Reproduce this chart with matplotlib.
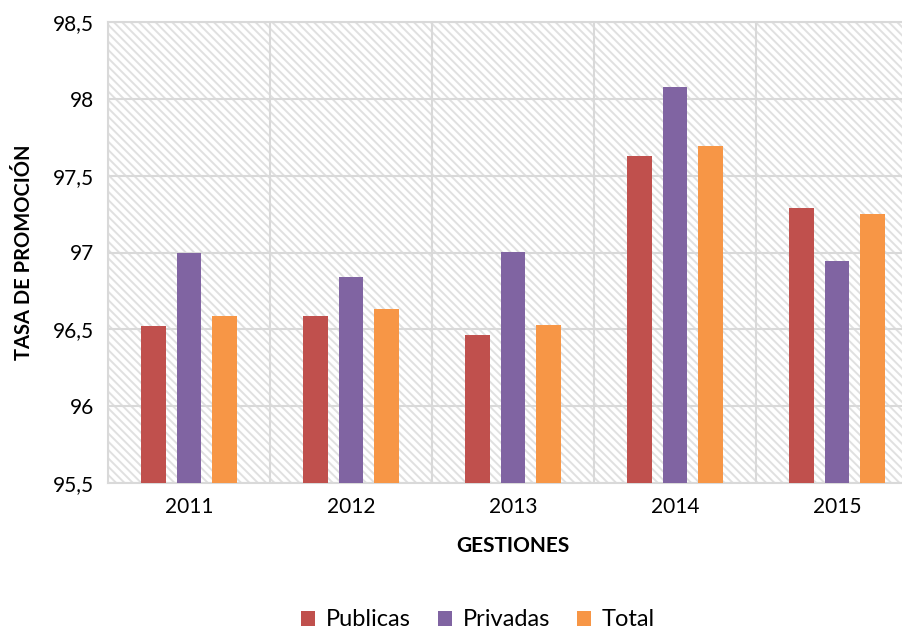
import matplotlib.pyplot as plt
import matplotlib.patches as mpatches
import numpy as np

plt.rcParams['font.family'] = ['Lato', 'DejaVu Sans']
plt.rcParams['hatch.linewidth'] = 1.4

years = ['2011', '2012', '2013', '2014', '2015']
publicas = [96.52, 96.585, 96.46, 97.63, 97.29]
privadas = [97.0, 96.84, 97.005, 98.08, 96.945]
total = [96.585, 96.63, 96.53, 97.69, 97.25]
yticks = [95.5, 96, 96.5, 97, 97.5, 98, 98.5]
ytick_labels = ['95,5', '96', '96,5', '97', '97,5', '98', '98,5']

colors = ['#c0504d', '#8064a2', '#f79646']
names = ['Publicas', 'Privadas', 'Total']

fig = plt.figure(figsize=(9.03, 6.31), dpi=100)
ax = fig.add_axes([108/903, 1 - 483/631, 810/903, 461/631])

# hatched background
bg = mpatches.Rectangle((0, 0), 1, 1, transform=ax.transAxes, facecolor='white',
                        edgecolor='#e0e0e0', linewidth=0, hatch='\\\\\\\\', zorder=0)
ax.add_patch(bg)

x = np.arange(len(years))
w = 0.154
off = 0.222
for i, (vals, c, n) in enumerate(zip([publicas, privadas, total], colors, names)):
    ax.bar(x + (i - 1) * off, np.array(vals) - 95.5, bottom=95.5, width=w,
           color=c, label=n, zorder=3)

ax.set_xlim(-0.5, 4.5)
ax.set_ylim(95.5, 98.5)
ax.set_yticks(yticks)
ax.set_yticklabels(ytick_labels, fontsize=15)
ax.set_xticks(x)
ax.set_xticklabels(years, fontsize=15)
ax.set_xticks(np.arange(-0.5, 5, 1), minor=True)
ax.tick_params(length=0, which='both', pad=10)
ax.grid(axis='y', which='major', color='#d9d9d9', lw=1.5, zorder=1)
ax.grid(axis='x', which='minor', color='#d9d9d9', lw=1.5, zorder=1)
for s in ax.spines.values():
    s.set_color('#d9d9d9')
    s.set_linewidth(1.5)

ax.set_ylabel('TASA DE PROMOCIÓN', fontsize=14.5, fontweight='bold', labelpad=14)
ax.set_xlabel('GESTIONES', fontsize=15, fontweight='bold', labelpad=14)

fig.legend(loc='center', bbox_to_anchor=(478/903, 1 - 620/631), ncol=3, frameon=False,
           fontsize=17, handlelength=0.6, handleheight=0.6, handletextpad=0.45,
           columnspacing=1.15)

fig.savefig('out.png', dpi=100)
